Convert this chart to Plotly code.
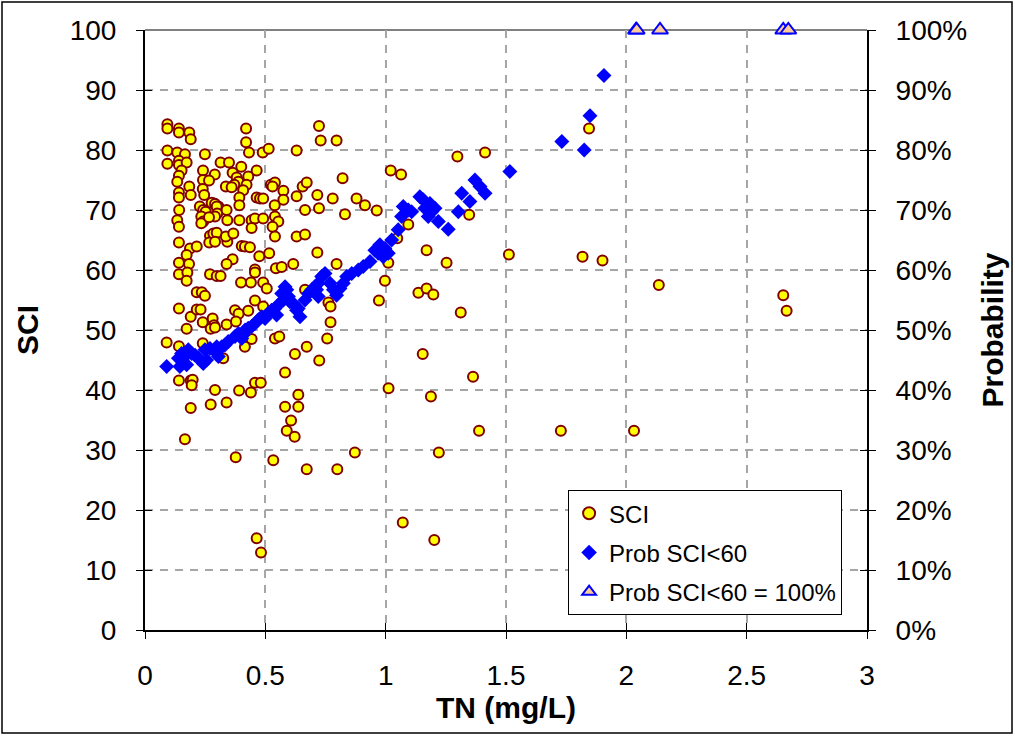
import plotly.graph_objects as go

# ---- data: SCI observations (TN mg/L, SCI) ----
sci_tn = [0.093,0.093,0.141,0.141,0.184,0.19,0.42,0.42,0.432,0.489,0.514,0.63,0.093,0.134,0.166,0.249,0.093,0.141,0.141,0.173,
0.152,0.141,0.134,0.314,0.349,0.4,0.464,0.241,0.29,0.241,0.266,0.364,0.381,0.388,0.371,0.429,0.422,0.336,0.36,0.408,
0.141,0.141,0.184,0.19,0.24,0.246,0.287,0.305,0.392,0.392,0.464,0.478,0.491,0.523,0.54,0.53,0.575,0.575,0.539,0.63,
0.142,0.134,0.141,0.228,0.242,0.252,0.234,0.242,0.234,0.277,0.291,0.298,0.3,0.291,0.266,0.339,0.342,0.392,0.443,0.457,
0.491,0.443,0.54,0.554,0.53,0.54,0.63,0.141,0.27,0.284,0.298,0.267,0.291,0.342,0.336,0.367,0.187,0.215,0.173,0.141,
0.183,0.402,0.415,0.436,0.475,0.516,0.364,0.339,0.457,0.544,0.568,0.616,
0.141,0.176,0.173,0.27,0.298,0.314,0.457,0.491,0.506,0.399,0.44,0.215,0.236,0.249,0.141,0.19,0.215,0.231,0.173,0.24,
0.281,0.287,0.273,0.291,0.339,0.374,0.389,0.378,0.429,0.457,0.491,0.09,0.141,0.24,0.325,0.443,0.415,0.54,0.558,0.623,
0.582,0.141,0.19,0.198,0.194,0.291,0.273,0.339,0.391,0.44,0.457,0.481,0.19,0.582,0.637,0.637,0.607,0.589,0.622,0.166,
0.377,0.533,
0.723,0.73,0.796,1.021,1.064,0.821,0.655,0.672,0.716,0.78,0.879,0.914,0.963,0.665,0.723,0.831,1.094,0.665,1.048,1.17,
0.716,0.796,1.011,1.253,
0.997,1.136,1.17,1.198,0.972,0.665,0.762,0.771,0.771,0.757,0.672,0.724,1.154,1.012,1.188,0.872,1.221,0.672,0.799,
1.298,1.413,1.347,1.512,1.818,1.901,1.312,1.845,2.135,2.652,2.666,0.464,0.482,1.071,1.202,1.363,1.388,1.728,2.032]

sci_val = [84.3,83.6,83.6,82.9,82.9,81.8,83.6,81.3,79.6,79.6,80.2,79.9,79.9,79.6,79.3,79.3,77.7,78.2,77.5,77.9,
76.6,75.7,74.7,77.9,77.9,77.2,76.6,76.6,75.9,75.0,74.9,76.2,75.4,74.7,74.2,75.6,74.2,73.9,73.8,73.3,
72.9,72.1,73.9,72.5,73.5,72.5,71.1,70.6,72.1,70.8,72.1,71.9,71.9,74.2,74.6,73.9,73.2,71.7,70.8,72.3,
70.0,68.3,67.2,70.6,70.0,69.7,68.9,68.1,67.8,71.2,71.0,70.6,69.4,68.9,68.8,70.0,68.3,68.3,68.3,68.6,
68.6,67.0,68.9,68.1,67.2,65.6,65.6,64.6,65.7,66.1,66.2,64.6,64.7,64.7,65.6,66.1,63.6,63.9,62.5,61.2,
61.0,64.0,63.9,63.8,62.3,62.8,61.8,61.0,60.1,60.3,60.5,61.0,
59.3,59.6,58.2,59.3,59.0,59.0,59.6,57.9,56.9,57.9,57.9,56.3,56.3,55.7,53.6,52.2,53.4,53.4,50.2,51.3,
51.9,50.8,50.2,50.4,50.9,53.3,52.7,51.4,53.2,54.9,53.9,47.9,47.3,47.8,45.3,48.5,47.2,48.6,48.9,46.0,
42.9,41.6,41.6,41.7,40.8,40.0,37.6,37.9,39.9,39.6,41.2,41.2,37.0,37.2,39.2,37.2,34.9,33.2,32.2,31.8,
28.8,28.3,
84.0,81.6,81.6,76.6,75.9,75.3,73.9,74.6,72.5,71.9,71.9,70.8,69.9,70.0,70.3,69.3,67.6,65.9,65.3,63.3,
62.9,61.0,61.2,61.2,
58.2,56.2,56.9,55.9,54.9,56.7,54.6,53.9,51.3,48.6,47.2,44.9,46.0,40.3,38.9,29.6,29.6,26.8,26.8,
78.9,79.6,69.2,62.6,62.2,61.6,52.9,83.6,57.5,55.8,53.2,15.3,12.9,17.9,15.0,42.2,33.2,33.2,33.2]

# ---- data: probability SCI<60 (TN mg/L, probability) ----
prob_tn = [0.09,0.139,0.152,0.166,0.18,0.194,0.145,0.173,0.208,0.222,0.242,0.256,0.27,0.249,0.291,0.305,0.319,0.332,
0.346,0.298,0.374,0.388,0.402,0.416,0.429,0.443,0.457,0.409,0.471,0.485,0.499,0.512,0.526,0.54,0.554,0.547,
0.568,0.582,0.589,0.596,0.575,0.602,0.616,0.63,0.644,0.637,0.665,0.679,0.693,0.706,0.72,0.734,0.748,0.72,0.713,
0.769,0.783,0.796,0.81,0.824,0.838,0.859,0.886,0.907,0.935,
0.955,0.976,0.997,1.011,0.99,0.969,1.025,1.052,1.066,1.073,1.094,1.108,1.142,1.156,1.163,1.177,1.184,1.191,1.205,
1.219,1.26,1.302,1.316,1.35,1.371,1.392,1.413,1.516,1.732,1.825,1.849,1.907]
prob_val = [0.439,0.453,0.461,0.456,0.467,0.461,0.439,0.442,0.458,0.453,0.444,0.450,0.469,0.467,0.464,0.456,0.472,0.475,
0.481,0.472,0.489,0.494,0.486,0.500,0.503,0.506,0.511,0.492,0.517,0.522,0.519,0.528,0.533,0.536,0.542,0.525,
0.561,0.572,0.567,0.556,0.550,0.547,0.544,0.533,0.522,0.536,0.550,0.561,0.567,0.572,0.578,0.589,0.594,0.556,0.567,
0.578,0.567,0.558,0.569,0.578,0.589,0.594,0.600,0.606,0.614,
0.633,0.642,0.636,0.628,0.622,0.628,0.650,0.667,0.689,0.706,0.700,0.697,0.722,0.717,0.703,0.689,0.711,0.697,0.703,
0.681,0.668,0.697,0.728,0.714,0.750,0.739,0.728,0.764,0.814,0.800,0.857,0.924]

# ---- data: probability = 100% ----
full_tn = [2.04, 2.043, 2.14, 2.652, 2.673]
full_val = [1.0, 1.0, 1.0, 1.0, 1.0]

x_ticks = [0, 0.5, 1, 1.5, 2, 2.5, 3]
y_ticks = [0, 10, 20, 30, 40, 50, 60, 70, 80, 90, 100]

FONT = "Arial, Liberation Sans, sans-serif"
GRID = "#a6a6a6"
GRIDDASH = "8px,7px"

fig = go.Figure()
fig.add_trace(go.Scatter(
    x=sci_tn, y=sci_val, mode="markers", name="SCI",
    marker=dict(symbol="circle", size=10, color="#FFFF00", line=dict(color="#800000", width=2)),
    xaxis="x", yaxis="y", legendgroup="a"))
fig.add_trace(go.Scatter(
    x=prob_tn, y=prob_val, mode="markers", name="Prob SCI<60",
    marker=dict(symbol="diamond", size=11.5, color="#0000FF", line=dict(width=0)),
    xaxis="x", yaxis="y2", legendgroup="b"))
fig.add_trace(go.Scatter(
    x=full_tn, y=full_val, mode="markers", name="Prob SCI<60 = 100%",
    marker=dict(symbol="triangle-up", size=14, color="#FFCC99", line=dict(color="#0000FF", width=2)),
    xaxis="x", yaxis="y2", legendgroup="c", cliponaxis=False))
# dummy traces so the inside-tick overlay axes are drawn
fig.add_trace(go.Scatter(x=[None], y=[None], xaxis="x2", yaxis="y3", showlegend=False, hoverinfo="skip"))
fig.add_trace(go.Scatter(x=[None], y=[None], xaxis="x2", yaxis="y4", showlegend=False, hoverinfo="skip"))

tickfont = dict(family=FONT, size=28, color="black")
titlefont = dict(family=FONT, size=30, color="black")

fig.update_layout(
    width=1015, height=736,
    margin=dict(l=145, r=148, t=30, b=106),
    paper_bgcolor="white", plot_bgcolor="white",
    font=dict(family=FONT, color="black"),
    xaxis=dict(range=[0, 3], tickvals=x_ticks, ticktext=[f"{v:g}" for v in x_ticks],
               showgrid=True, gridcolor=GRID, griddash=GRIDDASH, gridwidth=1.5,
               zeroline=False, showline=True, linecolor="black", linewidth=2,
               ticks="outside", ticklen=7, tickwidth=1, tickcolor="black",
               tickfont=tickfont, ticklabelstandoff=12,
               title=dict(text="<b>TN (mg/L)</b>", font=titlefont, standoff=4),
               anchor="y"),
    xaxis2=dict(range=[0, 3], overlaying="x", side="bottom", anchor="y",
                tickvals=x_ticks, showticklabels=False, showgrid=False, zeroline=False,
                ticks="inside", ticklen=7, tickwidth=1, tickcolor="black", showline=False),
    yaxis=dict(range=[0, 100], tickvals=y_ticks, showgrid=True, gridcolor=GRID, griddash=GRIDDASH, gridwidth=1.5,
               zeroline=False, showline=True, linecolor="black", linewidth=2,
               ticks="outside", ticklen=7, tickwidth=1, tickcolor="black",
               tickfont=tickfont, ticklabelstandoff=14,
               title=dict(text="<b>SCI</b>", font=titlefont, standoff=22)),
    yaxis2=dict(range=[0, 1], overlaying="y", side="right", anchor="x",
                tickvals=[v / 100 for v in y_ticks], tickformat=".0%", showgrid=False, zeroline=False,
                showline=True, linecolor="black", linewidth=2,
                ticks="outside", ticklen=7, tickwidth=1, tickcolor="black",
                tickfont=tickfont, ticklabelstandoff=14,
                title=dict(text="<b>Probability</b>", font=titlefont, standoff=16)),
    yaxis3=dict(range=[0, 100], overlaying="y", side="left", anchor="x", tickvals=y_ticks,
                showticklabels=False, showgrid=False, zeroline=False, showline=False,
                ticks="inside", ticklen=7, tickwidth=1, tickcolor="black"),
    yaxis4=dict(range=[0, 100], overlaying="y", side="right", anchor="x", tickvals=y_ticks,
                showticklabels=False, showgrid=False, zeroline=False, showline=False,
                ticks="inside", ticklen=7, tickwidth=1, tickcolor="black"),
    legend=dict(x=0.586, y=0.233, xanchor="left", yanchor="top",
                bgcolor="white", bordercolor="black", borderwidth=1,
                font=dict(family=FONT, size=24, color="black"),
                tracegroupgap=5, itemsizing="constant"),
    showlegend=True,
)

# grey top frame of the plot area (under the markers) and black frame round the whole picture
fig.add_shape(type="line", xref="paper", yref="paper", x0=0, x1=1, y0=1, y1=1,
              line=dict(color="#808080", width=2), layer="below")
fig.add_shape(type="rect", xref="paper", yref="paper",
              x0=-143 / 722, x1=867 / 722, y0=-103 / 600, y1=628 / 600,
              line=dict(color="black", width=1.5), fillcolor="rgba(0,0,0,0)", layer="above")

fig.write_html("out.html")
